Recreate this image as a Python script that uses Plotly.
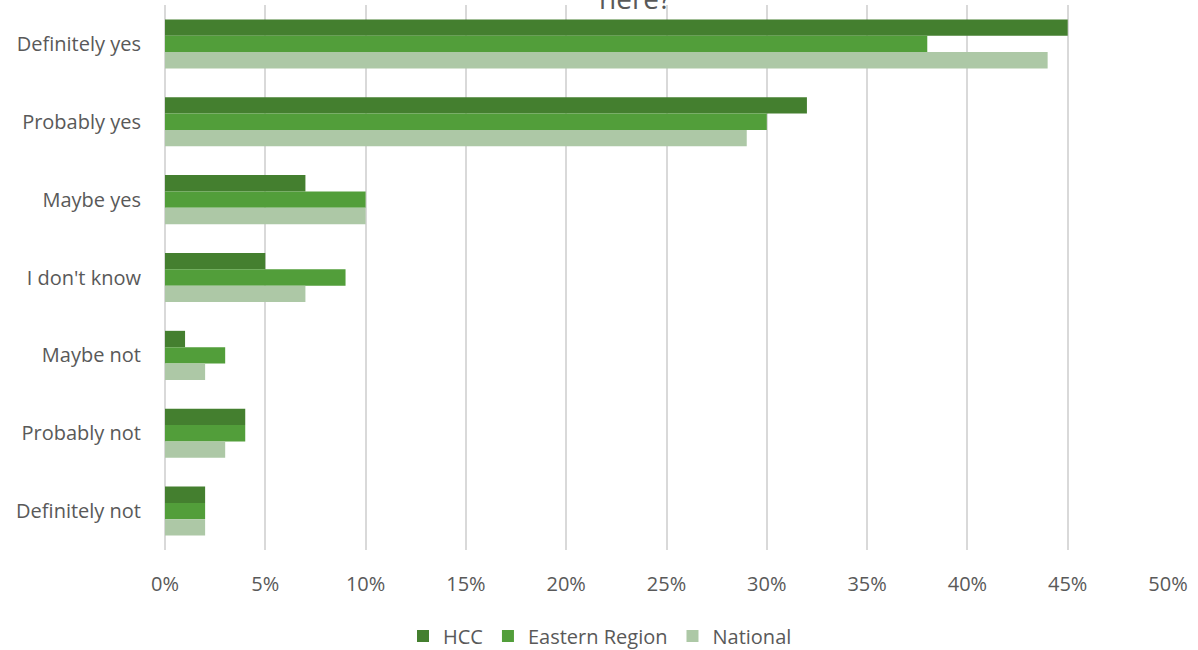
import plotly.graph_objects as go

categories = ["Definitely yes", "Probably yes", "Maybe yes", "I don't know",
              "Maybe not", "Probably not", "Definitely not"]
hcc = [45, 32, 7, 5, 1, 4, 2]
eastern = [38, 30, 10, 9, 3, 4, 2]
national = [44, 29, 10, 7, 2, 3, 2]
series_names = ["HCC", "Eastern Region", "National"]
x_ticks = [0, 5, 10, 15, 20, 25, 30, 35, 40, 45, 50]
x_tick_text = [f"{v}%" for v in x_ticks]

colors = ["#447F2F", "#529E3A", "#ADC8A6"]
font = "Open Sans, sans-serif"
grey = "#595959"

fig = go.Figure()
for name, vals, col in zip(series_names, [hcc, eastern, national], colors):
    fig.add_trace(go.Bar(
        y=categories, x=vals, name=name, orientation="h",
        marker=dict(color=col, line=dict(width=0)),
    ))

W, H = 1198, 650
ml, mr, mt, mb = 165, 30, 5, 100
pw, ph = W - ml - mr, H - mt - mb

fig.update_layout(
    width=W, height=H,
    margin=dict(l=ml, r=mr, t=mt, b=mb, autoexpand=False),
    barmode="group", bargap=0.37, bargroupgap=0,
    plot_bgcolor="white", paper_bgcolor="white",
    font=dict(family=font, size=20, color=grey),
    xaxis=dict(
        range=[0, 50], tickvals=x_ticks, ticktext=x_tick_text,
        showgrid=True, gridcolor="#D9D9D9", gridwidth=2,
        zeroline=True, zerolinecolor="#D9D9D9", zerolinewidth=2,
        showline=False, ticks="outside", ticklen=16, tickcolor="rgba(0,0,0,0)",
        tickfont=dict(size=20, color=grey), automargin=False,
    ),
    yaxis=dict(
        autorange="reversed", showgrid=False, showline=False, zeroline=False,
        ticks="outside", ticklen=19, tickcolor="rgba(0,0,0,0)",
        tickfont=dict(size=20, color=grey), automargin=False,
    ),
    legend=dict(
        orientation="h", x=(600 - ml) / pw, xanchor="center",
        yref="container", y=(H - 636) / H, yanchor="middle",
        font=dict(size=20, color=grey), traceorder="normal",
        itemwidth=30,
    ),
    showlegend=True,
)

# title line, partly above the top edge
fig.add_annotation(
    text="here?", xref="paper", yref="paper",
    x=(635 - ml) / pw, y=(mt + ph - 19) / ph, xanchor="center", yanchor="bottom",
    showarrow=False, font=dict(size=28, color=grey, family=font),
)

fig.write_html("out.html")
